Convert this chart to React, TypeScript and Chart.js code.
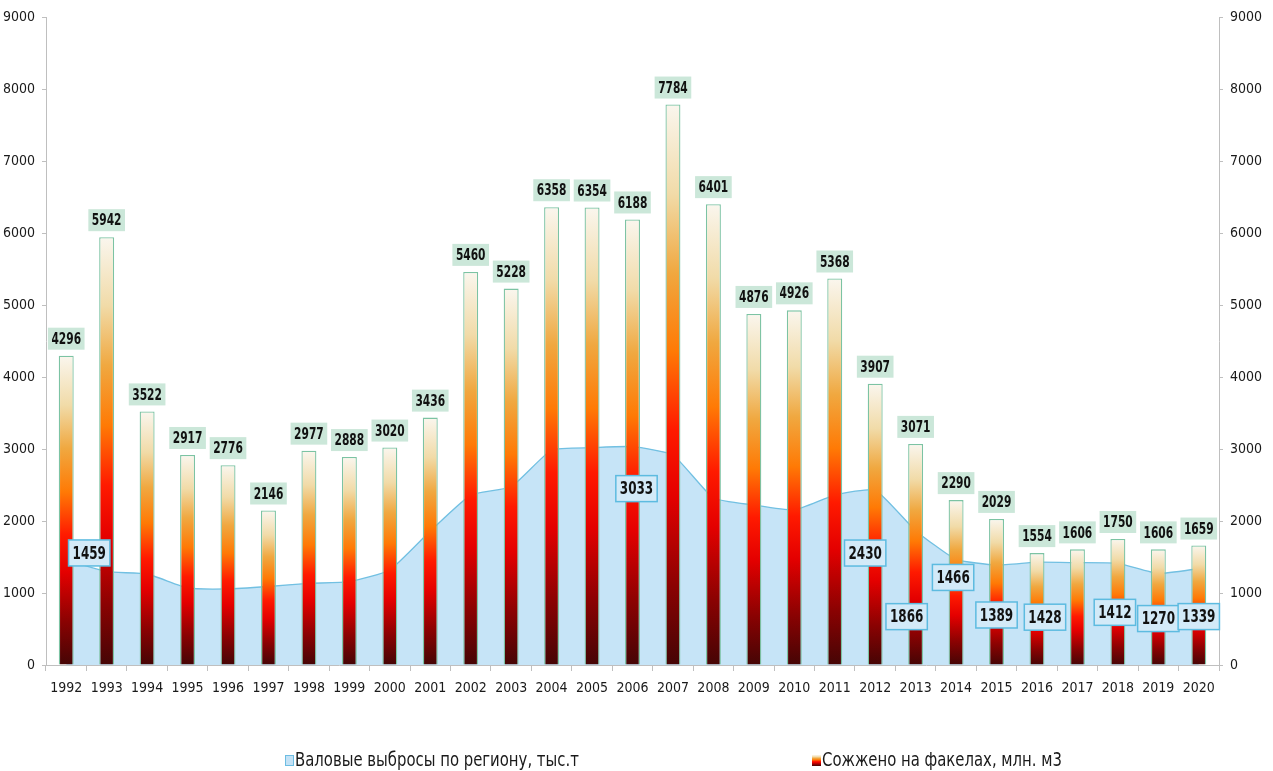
import React, { useEffect, useRef } from 'react';
import { Chart, registerables } from 'chart.js';

Chart.register(...registerables);

const years = ['1992', '1993', '1994', '1995', '1996', '1997', '1998', '1999', '2000', '2001', '2002', '2003', '2004', '2005', '2006', '2007', '2008', '2009', '2010', '2011', '2012', '2013', '2014', '2015', '2016', '2017', '2018', '2019', '2020'];
const flaredGas = [4296, 5942, 3522, 2917, 2776, 2146, 2977, 2888, 3020, 3436, 5460, 5228, 6358, 6354, 6188, 7784, 6401, 4876, 4926, 5368, 3907, 3071, 2290, 2029, 1554, 1606, 1750, 1606, 1659];
const emissions = [1459, 1296, 1264, 1070, 1056, 1090, 1134, 1157, 1320, 1860, 2360, 2476, 2986, 3018, 3033, 2917, 2319, 2222, 2153, 2361, 2430, 1866, 1466, 1389, 1428, 1421, 1412, 1270, 1339];
const axisMin = 0;
const axisMax = 9000;
const axisStep = 1000;
const emissionLabelIdx = [0, 14, 20, 21, 22, 23, 24, 26, 27, 28];
const emissionLabelShift = [[23, -7], [4, 42], [-10, 63], [-9, 86], [-3, 18], [0, 50], [8, 55], [-3, 49], [0, 45], [0, 48]];
const seriesNames = ['Валовые выбросы по региону, тыс.т', 'Сожжено на факелах, млн. м3'];

const FONT = "'Liberation Sans Narrow', 'Arial Narrow', 'DejaVu Sans Condensed', 'Liberation Sans', sans-serif";
const NARROW = 0.74;

function barGradient(c: CanvasRenderingContext2D, yBottom: number, yTop: number) {
  const g = c.createLinearGradient(0, yBottom, 0, yTop);
  g.addColorStop(0, '#450505');
  g.addColorStop(0.14, '#8a0202');
  g.addColorStop(0.3, '#e40000');
  g.addColorStop(0.42, '#ff1a00');
  g.addColorStop(0.56, '#ff7a05');
  g.addColorStop(0.7, '#f0a840');
  g.addColorStop(0.84, '#f1dba8');
  g.addColorStop(1, '#faf6ee');
  return g;
}

function narrowText(c: CanvasRenderingContext2D, txt: string, cx: number, cy: number) {
  c.save();
  c.translate(cx, cy);
  c.scale(NARROW, 1);
  c.fillText(txt, 0, 0);
  c.restore();
}

const labelsPlugin = {
  id: 'valueLabels',
  afterDatasetsDraw(chart: any) {
    const c: CanvasRenderingContext2D = chart.ctx;
    c.save();
    c.textAlign = 'center';
    c.textBaseline = 'middle';

    const areaMeta = chart.getDatasetMeta(1);
    c.font = `bold 18px ${FONT}`;
    emissionLabelIdx.forEach((idx, k) => {
      const p = areaMeta.data[idx];
      if (!p) return;
      const txt = String(emissions[idx]);
      const cx = p.x + emissionLabelShift[k][0];
      const cy = p.y + emissionLabelShift[k][1];
      const w = c.measureText(txt).width * NARROW + 8;
      const h = 26;
      c.fillStyle = '#d3eaf8';
      c.fillRect(cx - w / 2, cy - h / 2, w, h);
      c.strokeStyle = '#5dbbe0';
      c.lineWidth = 1.5;
      c.strokeRect(cx - w / 2, cy - h / 2, w, h);
      c.fillStyle = '#111111';
      narrowText(c, txt, cx, cy + 1);
    });

    const barMeta = chart.getDatasetMeta(0);
    c.font = `bold 16px ${FONT}`;
    barMeta.data.forEach((el: any, i: number) => {
      const txt = String(flaredGas[i]);
      const w = c.measureText(txt).width * NARROW + 7;
      const h = 22;
      const cx = el.x;
      const cy = el.y - 17;
      c.fillStyle = '#cbe7d9';
      c.fillRect(cx - w / 2, cy - h / 2, w, h);
      c.fillStyle = '#111111';
      narrowText(c, txt, cx, cy + 1);
    });
    c.restore();
  },
};

const legendPlugin = {
  id: 'bottomLegend',
  afterDraw(chart: any) {
    const c: CanvasRenderingContext2D = chart.ctx;
    c.save();
    c.font = `19px ${FONT}`;
    c.textAlign = 'left';
    c.textBaseline = 'middle';
    const y = 761;
    c.fillStyle = '#c3e2f6';
    c.fillRect(285, y - 6, 9, 11);
    c.strokeStyle = '#6dbde2';
    c.lineWidth = 1;
    c.strokeRect(285.5, y - 5.5, 8, 10);
    c.fillStyle = '#1a1a1a';
    c.save();
    c.translate(295, y);
    c.scale(0.87, 1);
    c.fillText(seriesNames[0], 0, 0);
    c.restore();
    c.fillStyle = barGradient(c, y + 5, y - 6);
    c.fillRect(812, y - 6, 9, 11);
    c.fillStyle = '#1a1a1a';
    c.save();
    c.translate(822, y);
    c.scale(0.87, 1);
    c.fillText(seriesNames[1], 0, 0);
    c.restore();
    c.restore();
  },
};

export default function App() {
  const ref = useRef<HTMLCanvasElement | null>(null);

  useEffect(() => {
    if (!ref.current) return;
    const tickFont = { family: FONT, size: 14 };
    const plain = (v: any) => String(v);
    const chart = new Chart(ref.current, {
      data: {
        labels: years,
        datasets: [
          {
            type: 'bar',
            label: seriesNames[1],
            data: flaredGas,
            order: 0,
            yAxisID: 'y',
            barPercentage: 0.37,
            categoryPercentage: 1,
            borderColor: '#7cc3a3',
            borderWidth: 1.3,
            backgroundColor: (ctx: any) => {
              const ch = ctx.chart;
              const y = ch.scales && ch.scales.y;
              if (!y || ctx.dataIndex === undefined) return '#ff3000';
              const v = flaredGas[ctx.dataIndex];
              const y0 = y.getPixelForValue(0);
              const y1 = y.getPixelForValue(v);
              if (!isFinite(y0) || !isFinite(y1) || y0 === y1) return '#ff3000';
              return barGradient(ch.ctx, y0, y1);
            },
          },
          {
            type: 'line',
            label: seriesNames[0],
            data: emissions,
            order: 1,
            yAxisID: 'y1',
            fill: 'origin',
            backgroundColor: '#c6e4f7',
            borderColor: '#72c0e2',
            borderWidth: 1.3,
            pointRadius: 0,
            tension: 0.15,
          },
        ],
      } as any,
      options: {
        animation: false,
        responsive: true,
        maintainAspectRatio: false,
        layout: { padding: { top: 17, bottom: 66, left: 0, right: 0 } },
        plugins: {
          legend: { display: false },
          tooltip: { enabled: false },
        },
        scales: {
          x: {
            grid: { display: true, drawOnChartArea: false, offset: true, tickLength: 6, color: '#bfbfbf' },
            border: { color: '#bfbfbf' },
            ticks: { font: tickFont, color: '#1a1a1a', padding: 9, maxRotation: 0, autoSkip: false },
            afterFit: (s: any) => { s.height = 40; },
          },
          y: {
            position: 'left',
            min: axisMin,
            max: axisMax,
            grid: { drawOnChartArea: false, tickLength: 4, color: '#bfbfbf' },
            border: { color: '#bfbfbf' },
            ticks: { stepSize: axisStep, font: tickFont, color: '#1a1a1a', padding: 7, callback: plain },
            afterFit: (s: any) => { s.width = 46; },
          },
          y1: {
            position: 'right',
            min: axisMin,
            max: axisMax,
            grid: { drawOnChartArea: false, tickLength: 4, color: '#bfbfbf' },
            border: { color: '#bfbfbf' },
            ticks: { stepSize: axisStep, font: tickFont, color: '#1a1a1a', padding: 7, callback: plain },
            afterFit: (s: any) => { s.width = 54; },
          },
        },
      } as any,
      plugins: [labelsPlugin, legendPlugin],
    });
    return () => chart.destroy();
  }, []);

  return (
    <div style={{ position: 'fixed', left: 0, top: 0, width: 1273, height: 771, background: '#ffffff' }}>
      <canvas ref={ref} />
    </div>
  );
}
